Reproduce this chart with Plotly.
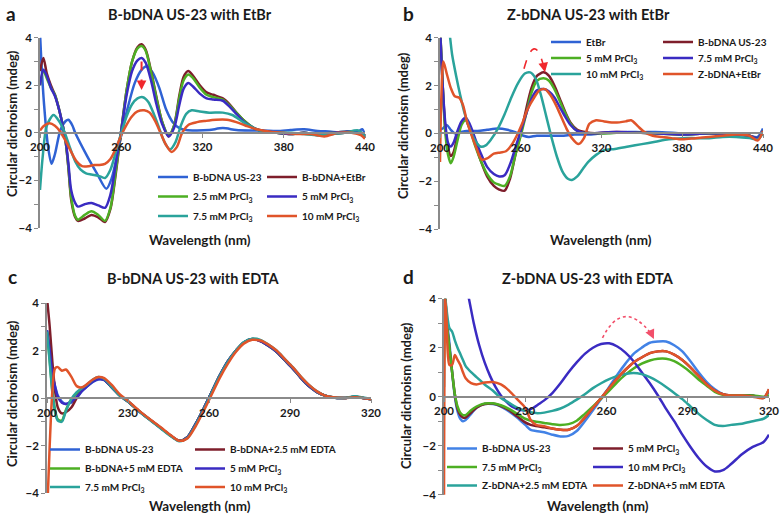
import plotly.graph_objects as go

W, H = 782, 517
FONT = "Lato"

BLUE = "#2F62D4"
BLUE_D = "#4282E6"
DARKRED = "#7E1E2B"
GREEN = "#4DAF23"
PURPLE = "#3A2BC2"
TEAL = "#2AA39B"
ORANGE = "#E0542A"
ARROW_RED = "#F0282D"
ARROW_PINK = "#F24F6A"

# ---------------- panel a : B-bDNA US-23 with EtBr ----------------
a_blue_x = [200, 201, 203, 206, 208.5, 211, 215, 219, 221, 224, 226, 235, 242, 249, 253, 257, 260, 265, 270, 275, 279,
            283, 288, 293, 298, 303, 308, 315, 325, 335, 345, 355, 365, 375, 385, 395, 405, 415, 425, 435, 438, 440]
a_blue_y = [4.2, 3.0, 1.2, -0.6, -1.3, -0.9, 0.1, 0.5, 0.55, 0.3, 0.0, -1.0, -1.7, -2.35, -1.9, -0.9, -0.1, 1.1, 2.1,
            2.65, 2.8, 2.55, 1.9, 1.0, 0.45, 0.2, 0.12, 0.1, 0.12, 0.2, 0.12, 0.1, 0.1, 0.08, 0.12, 0.15, 0.08, 0.05,
            0.0, 0.05, 0.15, -0.1]

a_x = [200, 202.5, 205, 208, 211, 214, 217, 219, 221, 223, 226, 228, 233, 238, 243, 248, 252, 256, 260, 264, 268, 272,
       275, 278, 282, 286, 290, 295, 299, 303, 306, 309.5, 313, 318, 323, 328, 335, 340, 345, 351, 358, 365, 375, 385,
       395, 405, 415, 425, 435, 440]
a_etbr_y = [2.6, 3.15, 2.5, 2.0, 1.6, 1.0, 0.25, -0.4, -1.5, -2.8, -3.55, -3.7, -3.6, -3.45, -3.55, -3.75, -3.2, -1.7,
            0.1, 1.8, 3.0, 3.6, 3.72, 3.5, 2.6, 1.5, 0.5, -0.15, 0.3, 1.6, 2.35, 2.6, 2.4, 2.0, 1.7, 1.6, 1.45, 1.2,
            0.85, 0.5, 0.2, 0.08, 0.0, -0.05, 0.0, -0.1, -0.05, 0.0, 0.05, -0.2]
a_pr25_y = [2.0, 2.6, 2.3, 1.9, 1.6, 1.0, 0.25, -0.4, -1.45, -2.7, -3.5, -3.65, -3.45, -3.3, -3.45, -3.7, -3.15, -1.6,
            0.1, 1.8, 3.0, 3.55, 3.65, 3.45, 2.55, 1.45, 0.5, -0.1, 0.3, 1.5, 2.2, 2.45, 2.3, 1.9, 1.6, 1.5, 1.4, 1.15,
            0.85, 0.5, 0.2, 0.05, 0.0, -0.05, 0.0, -0.05, 0.0, 0.05, 0.05, -0.1]
a_pr5_y = [2.0, 2.65, 2.4, 1.9, 1.55, 1.0, 0.25, -0.35, -1.3, -2.4, -2.95, -3.1, -3.0, -2.95, -3.05, -3.15, -2.6, -1.3,
           0.1, 1.6, 2.6, 3.05, 3.15, 2.95, 2.2, 1.2, 0.4, -0.15, 0.2, 1.2, 1.85, 2.1, 1.95, 1.65, 1.45, 1.4, 1.35, 1.1,
           0.8, 0.45, 0.2, 0.05, 0.0, -0.05, 0.0, -0.05, 0.0, 0.05, 0.05, -0.1]

a_teal_x = [200, 202, 205, 210, 214, 218, 222, 226, 230, 234, 238, 243, 248, 252, 256, 260, 264, 268, 272, 276, 280, 284,
            288, 292, 296, 300, 304, 308, 312, 318, 325, 335, 342, 350, 358, 365, 375, 385, 395, 405, 415, 425, 435, 440]
a_pr75_y = [-2.4, -1.0, 0.3, 0.75, 0.5, 0.05, -0.6, -1.2, -1.55, -1.7, -1.75, -1.8, -1.9, -1.55, -0.8, 0.0, 0.7, 1.2,
            1.45, 1.5, 1.3, 0.8, 0.2, -0.4, -0.7, -0.4, 0.3, 0.8, 0.95, 0.9, 0.85, 0.85, 0.75, 0.45, 0.2, 0.05, 0.02,
            0.0, -0.05, -0.1, -0.05, 0.0, 0.1, -0.15]

a_orange_x = [200, 203, 207, 211, 215, 219, 223, 227, 231, 236, 240, 244, 248, 252, 256, 260, 264, 268, 272, 277, 281,
              285, 289, 293, 297, 301, 305, 310, 316, 322, 330, 338, 345, 352, 360, 370, 380, 390, 400, 410, 420, 430,
              437, 440]
a_pr10_y = [0.1, 0.3, 0.4, 0.3, 0.05, -0.35, -0.8, -1.2, -1.4, -1.4, -1.35, -1.35, -1.3, -1.1, -0.65, -0.1, 0.35, 0.7,
            0.9, 0.95, 0.85, 0.5, 0.0, -0.5, -0.8, -0.6, 0.0, 0.35, 0.45, 0.5, 0.55, 0.55, 0.45, 0.3, 0.15, 0.05, 0.0,
            -0.05, -0.05, -0.15, 0.0, 0.0, -0.1, -0.25]

# ---------------- panel b : Z-bDNA US-23 with EtBr ----------------
b_etbr_x = [200, 202, 205, 208, 211, 215, 220, 228, 235, 243, 250, 256, 262, 266, 272, 280, 290, 300, 310, 320, 335,
            350, 365, 380, 395, 410, 420, 430, 436, 440]
b_etbr_y = [0.15, 0.2, 0.35, 0.15, 0.0, 0.05, 0.1, 0.1, 0.15, 0.2, 0.15, 0.05, -0.1, -0.15, -0.1, -0.1, -0.1, -0.05,
            -0.05, 0.0, 0.05, 0.05, 0.05, 0.0, 0.0, 0.0, 0.0, -0.1, -0.15, 0.2]

b_x = [200, 202, 204, 206, 208, 210, 213, 216, 219, 222, 226, 230, 235, 240, 244, 248, 252, 256, 260, 264, 268, 272,
       277, 281, 285, 289, 293, 297, 302, 308, 315, 325, 340, 360, 380, 400, 420, 430, 436, 440]
b_bdna_y = [4.5, 2.0, 0.2, -0.6, -0.95, -0.8, -0.1, 0.45, 0.6, 0.3, -0.4, -1.1, -1.8, -2.2, -2.35, -2.4, -1.9, -0.9,
            0.0, 1.0, 1.9, 2.4, 2.55, 2.4, 2.0, 1.45, 0.9, 0.45, 0.15, 0.05, 0.0, 0.05, 0.05, 0.0, -0.05, 0.0, -0.05,
            -0.1, -0.25, 0.1]
b_pr5_y = [4.5, 2.0, 0.0, -0.9, -1.25, -1.0, -0.3, 0.35, 0.55, 0.2, -0.5, -1.1, -1.7, -2.05, -2.15, -2.2, -1.8, -0.9,
           -0.1, 0.8, 1.7, 2.2, 2.3, 2.2, 1.85, 1.35, 0.85, 0.4, 0.1, 0.0, 0.0, 0.0, 0.05, 0.0, -0.05, 0.0, -0.05, -0.1,
           -0.2, 0.1]
b_pr75_y = [4.5, 2.0, 0.4, -0.4, -0.55, -0.4, 0.1, 0.5, 0.65, 0.4, -0.2, -0.8, -1.4, -1.7, -1.8, -1.75, -1.3, -0.6,
            0.1, 0.8, 1.45, 1.8, 1.85, 1.75, 1.5, 1.1, 0.7, 0.35, 0.1, 0.0, 0.0, 0.05, 0.05, 0.0, -0.05, 0.0, -0.05,
            -0.1, -0.2, 0.1]

b_teal_x = [206, 207.5, 209, 212, 215, 218, 222, 226, 230, 234, 238, 243, 248, 253, 258, 263, 267, 271, 275, 279, 283,
            287, 291, 295, 298, 302, 306, 310, 316, 322, 330, 340, 350, 360, 370, 380, 390, 400, 410, 420, 430, 436, 440]
b_pr10_y = [4.6, 4.0, 3.3, 2.4, 1.6, 0.9, 0.2, -0.3, -0.55, -0.5, -0.25, 0.2, 0.8, 1.5, 2.1, 2.5, 2.55, 2.3, 1.6, 0.7,
            -0.2, -1.0, -1.6, -1.9, -1.95, -1.8, -1.5, -1.2, -0.9, -0.7, -0.65, -0.55, -0.45, -0.35, -0.25, -0.2, -0.2,
            -0.2, -0.15, -0.15, -0.2, -0.25, 0.0]

b_orange_x = [200, 201, 202.5, 205, 208, 211, 214, 217, 220, 223, 227, 231, 235, 240, 245, 249, 253, 257, 261, 265,
              270, 274, 278, 282, 286, 290, 294, 298, 303, 307, 311, 316, 322, 330, 338, 342, 347, 352, 358, 365, 372,
              380, 390, 400, 410, 420, 430, 436, 440]
b_zdna_y = [-1.2, 1.5, 3.0, 2.5, 1.9, 1.55, 1.5, 1.2, 0.5, 0.0, -0.6, -1.1, -1.05, -0.85, -0.8, -0.75, -0.5, -0.1, 0.4,
            1.0, 1.5, 1.8, 1.85, 1.6, 1.2, 0.7, 0.2, -0.2, -0.45, -0.2, 0.4, 0.55, 0.5, 0.45, 0.5, 0.55, 0.3, 0.05,
            -0.1, -0.15, -0.2, -0.25, -0.2, -0.15, -0.1, -0.05, -0.1, -0.3, 0.1]

# ---------------- panel c : B-bDNA US-23 with EDTA ----------------
c_x = [200, 201, 202, 203, 204, 205.5, 207, 209, 211, 213, 215, 217, 219, 221, 224, 227, 230, 234, 238, 242, 246, 249,
       252, 255, 258, 261, 264, 267, 270, 273, 276, 279, 282, 285, 288, 291, 294, 297, 300, 303, 306, 310, 314, 317, 320]
c_bdna_y = [2.85, 2.0, 1.0, 0.5, 0.1, -0.15, -0.25, -0.2, 0.0, 0.3, 0.5, 0.68, 0.78, 0.76, 0.45, 0.1, -0.15, -0.55,
            -0.9, -1.25, -1.6, -1.8, -1.65, -1.1, -0.45, 0.25, 0.95, 1.55, 2.0, 2.35, 2.48, 2.4, 2.2, 1.95, 1.6, 1.25,
            0.85, 0.5, 0.25, 0.1, 0.02, 0.0, 0.05, 0.0, -0.05]
c_edta25_y = [4.2, 3.0, 1.5, 0.3, -0.4, -0.65, -0.6, -0.4, 0.0, 0.35, 0.55, 0.72, 0.82, 0.78, 0.45, 0.1, -0.15, -0.55,
              -0.9, -1.25, -1.6, -1.8, -1.65, -1.1, -0.45, 0.25, 0.95, 1.55, 2.0, 2.35, 2.47, 2.4, 2.2, 1.95, 1.6, 1.25,
              0.85, 0.5, 0.25, 0.1, 0.02, 0.0, 0.05, 0.0, -0.05]
c_edta5_y = [2.8, 1.6, 0.3, -0.5, -0.9, -0.95, -0.5, -0.05, 0.2, 0.4, 0.55, 0.75, 0.85, 0.8, 0.45, 0.1, -0.15, -0.55,
             -0.9, -1.25, -1.6, -1.8, -1.65, -1.1, -0.45, 0.25, 0.95, 1.55, 2.0, 2.35, 2.48, 2.42, 2.2, 1.95, 1.6, 1.25,
             0.85, 0.5, 0.25, 0.1, 0.02, 0.0, 0.05, 0.0, -0.05]
c_pr5_y = [2.85, 2.0, 1.0, 0.45, 0.05, -0.2, -0.25, -0.15, 0.05, 0.3, 0.5, 0.7, 0.8, 0.77, 0.45, 0.1, -0.15, -0.55,
           -0.9, -1.25, -1.6, -1.8, -1.65, -1.1, -0.45, 0.25, 0.95, 1.55, 2.0, 2.35, 2.48, 2.4, 2.2, 1.95, 1.6, 1.25,
           0.85, 0.5, 0.25, 0.1, 0.02, 0.0, 0.05, 0.0, -0.05]
c_pr75_y = [2.8, 1.5, 0.2, -0.6, -0.95, -1.0, -0.55, -0.05, 0.25, 0.42, 0.58, 0.78, 0.88, 0.82, 0.47, 0.1, -0.15,
            -0.55, -0.92, -1.27, -1.62, -1.82, -1.68, -1.15, -0.5, 0.22, 0.92, 1.52, 2.0, 2.36, 2.5, 2.45, 2.25, 2.0,
            1.65, 1.3, 0.9, 0.55, 0.28, 0.1, 0.03, 0.0, 0.07, 0.02, -0.05]
c_pr10_y = [-5.0, -2.0, 0.3, 1.25, 1.3, 1.15, 1.2, 0.9, 0.5, 0.45, 0.6, 0.78, 0.88, 0.85, 0.55, 0.15, -0.12, -0.52,
            -0.88, -1.22, -1.58, -1.8, -1.7, -1.2, -0.55, 0.15, 0.85, 1.45, 1.95, 2.3, 2.45, 2.42, 2.25, 2.0, 1.65,
            1.3, 0.9, 0.55, 0.28, 0.1, 0.03, 0.0, 0.03, 0.0, -0.05]

# ---------------- panel d : Z-bDNA US-23 with EDTA ----------------
d_x = [200, 200.5, 201, 202, 203, 204, 205, 206, 207, 208, 210, 212, 215, 218, 221, 224, 227, 230, 232, 234, 237, 240,
       243, 246, 249, 252, 255, 258, 261, 264, 267, 270, 273, 276, 279, 282, 285, 288, 291, 294, 297, 300, 303, 306,
       310, 314, 318, 320]
d_bdna_y = [4.5, 4.0, 3.2, 2.2, 1.0, 0.0, -0.6, -0.9, -1.0, -0.95, -0.7, -0.45, -0.3, -0.3, -0.4, -0.6, -0.85, -1.15,
            -1.35, -1.4, -1.45, -1.55, -1.62, -1.6, -1.4, -1.0, -0.55, -0.1, 0.4, 0.9, 1.35, 1.75, 2.0, 2.2, 2.25,
            2.25, 2.1, 1.85, 1.45, 1.0, 0.6, 0.3, 0.1, 0.05, 0.05, 0.05, -0.05, 0.2]
d_pr5_y = [4.5, 4.0, 3.0, 2.0, 1.0, 0.1, -0.5, -0.75, -0.85, -0.85, -0.65, -0.45, -0.3, -0.28, -0.38, -0.55, -0.8,
           -1.05, -1.15, -1.2, -1.25, -1.3, -1.35, -1.35, -1.2, -0.85, -0.45, -0.05, 0.35, 0.75, 1.1, 1.4, 1.6, 1.78,
           1.85, 1.85, 1.72, 1.5, 1.2, 0.85, 0.5, 0.25, 0.1, 0.05, 0.05, 0.05, -0.05, 0.3]
d_pr75_y = [4.5, 4.0, 3.0, 2.0, 1.0, 0.1, -0.4, -0.65, -0.75, -0.75, -0.55, -0.4, -0.28, -0.27, -0.35, -0.5, -0.7,
            -0.9, -0.98, -1.02, -1.07, -1.12, -1.15, -1.12, -0.98, -0.7, -0.4, -0.08, 0.25, 0.6, 0.9, 1.15, 1.35,
            1.48, 1.55, 1.55, 1.45, 1.25, 1.0, 0.7, 0.45, 0.2, 0.08, 0.05, 0.05, 0.05, 0.0, 0.05]
d_edta25_y = [0.4, 4.0, 3.5, 2.8, 2.65, 2.3, 2.0, 1.75, 1.5, 1.25, 1.0, 0.8, 0.5, 0.25, -0.05, -0.25, -0.45, -0.58,
              -0.63, -0.67, -0.65, -0.58, -0.48, -0.32, -0.12, 0.1, 0.35, 0.55, 0.72, 0.85, 0.93, 0.97, 0.92, 0.8,
              0.62, 0.4, 0.15, -0.1, -0.4, -0.7, -0.95, -1.15, -1.2, -1.15, -1.1, -1.0, -0.9, -0.75]
d_edta5_y = [-4.5, 4.0, 3.0, 1.3, 1.3, 1.7, 1.5, 1.3, 1.0, 0.75, 0.55, 0.5, 0.58, 0.6, 0.5, 0.25, -0.1, -0.45, -0.95,
             -1.15, -1.2, -1.3, -1.35, -1.35, -1.2, -0.85, -0.45, -0.05, 0.35, 0.75, 1.1, 1.4, 1.6, 1.78, 1.85, 1.85,
             1.72, 1.5, 1.2, 0.85, 0.5, 0.25, 0.1, 0.05, 0.05, 0.0, -0.05, 0.3]

d_pr10_x = [208, 209.2, 211, 213, 215, 217, 219, 221, 223, 225, 227, 229, 231, 233, 235, 237, 240, 243, 246, 249, 252,
            255, 258, 261, 264, 267, 270, 273, 276, 279, 282, 285, 288, 291, 294, 297, 300, 303, 306, 310, 314, 318, 320]
d_pr10_y = [4.6, 4.0, 3.0, 2.1, 1.4, 0.85, 0.4, 0.05, -0.2, -0.4, -0.5, -0.55, -0.55, -0.45, -0.3, -0.15, 0.15, 0.55,
            1.0, 1.4, 1.75, 2.0, 2.15, 2.18, 2.05, 1.8, 1.45, 1.0, 0.55, 0.05, -0.5, -1.0, -1.55, -2.05, -2.5, -2.85,
            -3.05, -3.0, -2.75, -2.35, -2.05, -1.85, -1.55]

PR = "PrCl<sub>3</sub>"

# (panel, name, x, y, colour, legend text-x px, legend row px)
series = [
    ("a", "B-bDNA US-23", a_blue_x, a_blue_y, BLUE, 193, 177),
    ("a", "B-bDNA+EtBr", a_x, a_etbr_y, DARKRED, 302, 177),
    ("a", "2.5 mM " + PR, a_x, a_pr25_y, GREEN, 193, 196.5),
    ("a", "5 mM " + PR, a_x, a_pr5_y, PURPLE, 302, 196.5),
    ("a", "7.5 mM " + PR, a_teal_x, a_pr75_y, TEAL, 193, 216),
    ("a", "10 mM " + PR, a_orange_x, a_pr10_y, ORANGE, 302, 216),
    ("b", "EtBr", b_etbr_x, b_etbr_y, BLUE, 586, 42),
    ("b", "B-bDNA US-23", b_x, b_bdna_y, DARKRED, 698, 42),
    ("b", "5 mM " + PR, b_x, b_pr5_y, GREEN, 586, 58),
    ("b", "7.5 mM " + PR, b_x, b_pr75_y, PURPLE, 698, 58),
    ("b", "10 mM " + PR, b_teal_x, b_pr10_y, TEAL, 586, 74),
    ("b", "Z-bDNA+EtBr", b_orange_x, b_zdna_y, ORANGE, 698, 74),
    ("c", "B-bDNA US-23", c_x, c_bdna_y, BLUE, 85, 449.5),
    ("c", "B-bDNA+2.5 mM EDTA", c_x, c_edta25_y, DARKRED, 230, 449.5),
    ("c", "B-bDNA+5 mM EDTA", c_x, c_edta5_y, GREEN, 85, 468.5),
    ("c", "5 mM " + PR, c_x, c_pr5_y, PURPLE, 230, 468.5),
    ("c", "7.5 mM " + PR, c_x, c_pr75_y, TEAL, 85, 487),
    ("c", "10 mM " + PR, c_x, c_pr10_y, ORANGE, 230, 487),
    ("d", "B-bDNA US-23", d_x, d_bdna_y, BLUE_D, 482, 448.5),
    ("d", "5 mM " + PR, d_x, d_pr5_y, DARKRED, 628, 448.5),
    ("d", "7.5 mM " + PR, d_x, d_pr75_y, GREEN, 482, 467),
    ("d", "10 mM " + PR, d_pr10_x, d_pr10_y, PURPLE, 628, 467),
    ("d", "Z-bDNA+2.5 mM EDTA", d_x, d_edta25_y, TEAL, 482, 485.5),
    ("d", "Z-bDNA+5 mM EDTA", d_x, d_edta5_y, ORANGE, 628, 485.5),
]

# panel geometry in px: left, right, top(y=4), bottom(y=-4), x range, dtick
panels = {
    "a": dict(ax="", l=40, r=365, t=37.7, b=228, rng=[200, 440], dt=60),
    "b": dict(ax="2", l=440, r=763, t=37.7, b=229, rng=[200, 440], dt=60),
    "c": dict(ax="3", l=47, r=371, t=303, b=493, rng=[200, 320], dt=30),
    "d": dict(ax="4", l=444, r=769, t=298.7, b=494.7, rng=[200, 320], dt=30),
}


def fx(px):
    return px / W


def fy(px):
    return 1 - px / H


fig = go.Figure()
layout = dict(
    width=W, height=H, margin=dict(l=0, r=0, t=0, b=0, autoexpand=False),
    paper_bgcolor="white", plot_bgcolor="white",
    font=dict(family=FONT, color="#1a1a1a", size=11),
    showlegend=True,
)

for i, (p, name, xs, ys, col, lx, ly) in enumerate(series):
    leg = "legend" if i == 0 else f"legend{i + 1}"
    ax = panels[p]["ax"]
    fig.add_trace(go.Scatter(
        x=xs, y=ys, mode="lines", name=name, legend=leg,
        xaxis="x" + ax, yaxis="y" + ax,
        line=dict(color=col, width=2.5, shape="spline", smoothing=0.8),
    ))
    layout[leg] = dict(
        x=fx(lx - 40), y=fy(ly), xanchor="left", yanchor="middle",
        bgcolor="rgba(0,0,0,0)", borderwidth=0,
        font=dict(family=FONT, size=10, weight="bold", color="#1a1a1a"),
    )

AXC = "#8a8a8a"
for p, g in panels.items():
    ax = g["ax"]
    ydom = [fy(g["b"]), fy(g["t"])]
    layout["xaxis" + ax] = dict(
        domain=[fx(g["l"]), fx(g["r"])], range=g["rng"], dtick=g["dt"], tick0=200,
        anchor="free", position=(ydom[0] + ydom[1]) / 2,
        showline=True, linecolor=AXC, linewidth=1.6, ticks="outside", ticklen=4, tickcolor=AXC,
        showgrid=False, zeroline=False,
        tickfont=dict(family=FONT, size=11.5, weight="bold", color="#1a1a1a"),
    )
    layout["yaxis" + ax] = dict(
        domain=ydom, range=[-4, 4], dtick=2, anchor="x" + ax,
        showline=True, linecolor=AXC, linewidth=1.6, ticks="outside", ticklen=4, tickcolor=AXC,
        minor=dict(dtick=1, ticks="outside", ticklen=4, tickcolor=AXC),
        showgrid=False, zeroline=False,
        tickfont=dict(family=FONT, size=11.5, weight="bold", color="#1a1a1a"),
    )

fig.update_layout(**layout)


def txt(x, y, s, size, angle=0):
    fig.add_annotation(x=fx(x), y=fy(y), xref="paper", yref="paper", text=s, showarrow=False,
                       textangle=angle, xanchor="center", yanchor="middle",
                       font=dict(family=FONT, size=size, weight="bold", color="#1a1a1a"))


# panel letters and titles
txt(11, 13, "a", 19)
txt(190, 15, "B-bDNA US-23 with EtBr", 14.5)
txt(409, 13, "b", 19)
txt(588, 15, "Z-bDNA US-23 with EtBr", 14.5)
txt(12, 276, "c", 19)
txt(193, 278, "B-bDNA US-23 with EDTA", 14.5)
txt(409, 276, "d", 19)
txt(588, 278, "Z-bDNA US-23 with EDTA", 14.5)

# axis titles
for x, y in [(12, 124), (403, 126), (12, 394), (406, 396)]:
    txt(x, y, "Circular dichroism (mdeg)", 13, angle=-90)
for x, y in [(200, 240), (601, 240), (200, 506), (598, 506)]:
    txt(x, y, "Wavelength (nm)", 13.5)

# arrows
fig.add_shape(type="line", xref="x", yref="y", x0=275, y0=3.0, x1=275, y1=2.05,
              line=dict(color=ARROW_RED, width=2, dash="dash"))
fig.add_annotation(xref="x", yref="y", axref="x", ayref="y", x=275, y=1.8, ax=275, ay=2.15,
                   text="", showarrow=True, arrowhead=2, arrowsize=1.2, arrowwidth=1.6, arrowcolor=ARROW_RED)

fig.add_shape(type="path", xref="x2", yref="y2", path="M 262.4,2.7 Q 270,4.29 276.8,2.85",
              line=dict(color=ARROW_RED, width=1.6, dash="dash"))
fig.add_annotation(xref="x2", yref="y2", axref="x2", ayref="y2", x=278, y=2.55, ax=276.5, ay=3.0,
                   text="", showarrow=True, arrowhead=2, arrowsize=1.2, arrowwidth=1.6, arrowcolor=ARROW_RED)

fig.add_shape(type="path", xref="x4", yref="y4", path="M 258.5,2.4 Q 266,4.03 276.3,2.6",
              line=dict(color=ARROW_PINK, width=1.6, dash="dot"))
fig.add_annotation(xref="x4", yref="y4", axref="x4", ayref="y4", x=277.5, y=2.35, ax=275.8, ay=2.75,
                   text="", showarrow=True, arrowhead=2, arrowsize=1.2, arrowwidth=1.6, arrowcolor=ARROW_PINK)

# drop the browser's default 8px body margin so the 782x517 figure fills the window
fig.write_html("out.html", config={"displayModeBar": False},
               post_script="document.body.style.margin='0px';")
